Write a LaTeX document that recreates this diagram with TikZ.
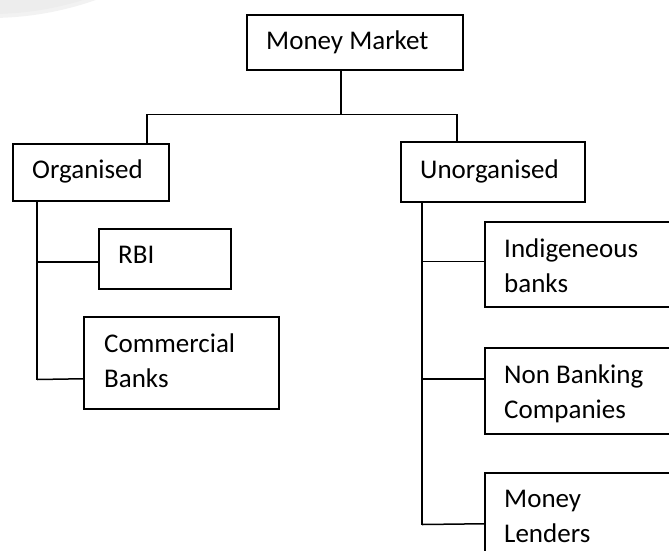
\documentclass[tikz,border=0pt]{standalone}
\usepackage{fontspec}
\setmainfont{Carlito}
\begin{document}
\begin{tikzpicture}[x=1pt,y=-1pt,
  box/.style={draw=black,line width=1.5pt,fill=white,inner sep=0pt,anchor=north west},
  txt/.style={inner sep=0pt,anchor=base west,align=left,font=\fontsize{27}{35}\selectfont},
  conn/.style={draw=black,line width=1.5pt}]
\clip (0,0) rectangle (669,550);
\fill[black!5] (-10,-300) circle (318);
\fill[black!7] (-10,-300) circle (314);
% boxes
\node[box,minimum width=216pt,minimum height=55pt] (mm) at (246,14) {};
\node[box,minimum width=156pt,minimum height=57pt] (org) at (12,143) {};
\node[box,minimum width=184pt,minimum height=60pt] (unorg) at (400,141) {};
\node[box,minimum width=132pt,minimum height=60pt] (rbi) at (98,228) {};
\node[box,minimum width=195pt,minimum height=92pt] (cb) at (83,316) {};
\node[box,minimum width=230pt,minimum height=85pt] (ind) at (484,221) {};
\node[box,minimum width=230pt,minimum height=86pt] (nbc) at (484,347) {};
\node[box,minimum width=230pt,minimum height=120pt] (ml) at (484,472) {};
% texts (anchor = baseline of last line)
\node[txt] (tmm) at (266,49) {Money Market};
\node[txt] (torg) at (32,178) {Organised};
\node[txt] (tunorg) at (420,178) {Unorganised};
\node[txt] (trbi) at (118,263) {RBI};
\node[txt] (tcb) at (104,387) {Commercial\\Banks};
\node[txt] (tind) at (504,292) {Indigeneous\\banks};
\node[txt] (tnbc) at (504,418) {Non Banking\\Companies};
\node[txt] (tml) at (504,542) {Money\\Lenders};
% connectors
\coordinate (split) at ([xshift=-14pt,yshift=-44pt]mm.south);
\draw[conn] ([xshift=-14pt]mm.south) -- (split);
\draw[conn] ([xshift=56pt]org.north) |- (split) -| ([xshift=-36pt]unorg.north);
\coordinate (oend) at ([xshift=25pt,yshift=-178pt]org.south west);
\draw[conn] ([xshift=25pt]org.south west) -- (oend);
\draw[conn] ([yshift=-3pt]rbi.west) -| ([xshift=25pt]org.south west);
\draw[conn] ([yshift=-16pt]cb.west) -- (oend);
\coordinate (uend) at ([xshift=22pt,yshift=-322pt]unorg.south west);
\draw[conn] ([xshift=22pt]unorg.south west) -- (uend);
\draw[conn] ([yshift=3pt]ind.west) -| ([xshift=22pt]unorg.south west);
\draw[conn] ([yshift=12pt]nbc.west) -| ([xshift=22pt]unorg.south west);
\draw[conn] ([yshift=9pt]ml.west) -- (uend);
\end{tikzpicture}
\end{document}
